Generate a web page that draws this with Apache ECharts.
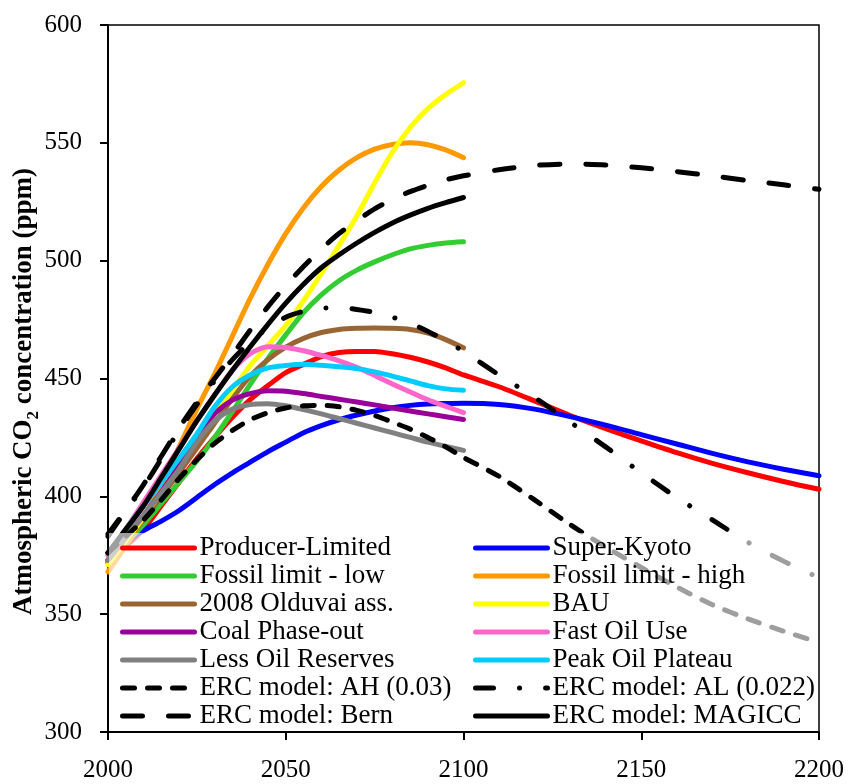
<!DOCTYPE html>
<html>
<head>
<meta charset="utf-8">
<script src="https://cdn.jsdelivr.net/npm/echarts@6/dist/echarts.min.js"></script>
<style>
  html, body { margin: 0; padding: 0; background: #ffffff; }
  #chart { width: 849px; height: 784px; }
</style>
</head>
<body>
<div id="chart"></div>
<script>
// Years sampled for the scenario runs (to 2100) and the long ERC runs (to 2200)
const yearsTo2100 = [2000, 2005, 2010, 2015, 2020, 2025, 2030, 2035, 2040, 2045, 2050,
                     2055, 2060, 2065, 2070, 2075, 2080, 2085, 2090, 2095, 2100];
const yearsTo2200 = yearsTo2100.concat([2110, 2120, 2130, 2140, 2150, 2160, 2170, 2180, 2190, 2200]);

// Atmospheric CO2 concentration (ppm)
const producerLimited = [373, 379, 386, 396, 406, 416, 425, 433.5, 441, 447, 452.5,
                         456, 459.3, 461, 461.5, 461.5, 460.5, 459, 457, 454.5, 451.5,
                         446.5, 440.5, 434.3, 428.7, 423.5, 418.5, 414, 410, 406.3, 403];
const superKyoto = [376, 381, 385.5, 389.5, 394, 399.5, 405, 410, 414.5, 419, 423,
                    427, 430, 432.5, 434.5, 436.2, 437.6, 438.6, 439.2, 439.4, 439.5,
                    439, 437, 433.8, 430.2, 426.2, 422.2, 418.2, 414.6, 411.5, 408.7];
const fossilLow = [372, 380, 388, 397, 406, 415, 425, 436, 447.5, 458.5, 468.5,
                   478, 485.5, 491.5, 496, 499.5, 502.5, 505, 506.5, 507.5, 508];
const fossilHigh = [368, 379, 391, 405, 421, 437, 452, 468, 484, 498.5, 511.5,
                    522.5, 531.5, 538.5, 543.7, 547.3, 549.3, 550, 549.2, 547, 543.7];
const olduvai = [372, 381, 390, 400, 410, 420.5, 431, 441.5, 451, 458, 463.3,
                 467, 469.5, 470.8, 471.3, 471.4, 471.3, 470.8, 469.3, 466.5, 463];
const bau = [371, 381, 391, 402, 413, 424, 435, 445, 455.5, 464, 472.5,
             483, 494.5, 506.5, 519, 533, 546, 556.5, 564.5, 570.5, 575.5];
const coalPhaseOut = [373, 382.5, 392, 402, 413, 425, 435, 440.8, 443.6, 444.8, 444.6,
                      443.6, 442.4, 441.2, 440, 438.8, 437.5, 436.2, 435, 433.8, 432.6];
const fastOilUse = [375, 386, 397.5, 409, 420.5, 432, 443, 453.5, 460.5, 463.5, 463.2,
                    461.8, 459.8, 457.5, 454.7, 451.3, 447.7, 444.3, 441, 438.2, 435.5];
const lessOilReserves = [373, 382.5, 392, 401.5, 411.5, 423, 432, 437, 439, 439.3, 438.4,
                         436.8, 435, 433, 431, 429, 427, 425, 423, 421.2, 419.5];
const peakOilPlateau = [376, 386, 396, 406, 416, 426.5, 438, 446.5, 451.5, 454.5, 455.5,
                        456, 455.6, 455, 454.2, 452.8, 451, 449, 447, 445.6, 445];
const ercAH = [376, 383, 390, 398.5, 407.5, 415.5, 422.5, 428, 432.5, 435.5, 437.5,
               438.4, 438.6, 438, 436.5, 434.3, 431.5, 428.5, 425, 421, 416.5,
               408.5, 398.5, 388, 378.5, 369.8, 361.5, 354, 348, 342.8, 338];
const ercAL = [384, 394, 404, 416, 428, 439, 449, 458, 465.5, 471.5, 476,
               478.5, 479.8, 480, 479.3, 478, 476, 473.5, 470, 466, 461.5,
               451.5, 442, 431.5, 421, 410, 399.5, 390, 380.5, 372.5, 365.5];
const ercBern = [383, 394, 405, 417, 429, 440, 450, 460, 470.5, 480.5, 489.5,
                 497.5, 505, 511.5, 517, 522, 526, 529.3, 532, 534.3, 536,
                 538.6, 540.4, 541, 540.6, 539.4, 537.8, 536, 534, 532.2, 530.3];
const ercMAGICC = [376, 386, 396, 408, 420, 432, 443, 453.5, 463.5, 473, 482,
                   490, 497, 502.5, 507.5, 512, 516, 519.3, 522.2, 524.6, 526.8];

// Axis ticks
const xTicks = [2000, 2050, 2100, 2150, 2200];
const yTicks = [300, 350, 400, 450, 500, 550, 600];

const FONT = '"Liberation Serif", "Times New Roman", serif';

function pairs(years, vals) {
  return vals.map((v, i) => [years[i], v]);
}

function lineSeries(name, years, vals, color, dash) {
  return {
    name: name,
    type: 'line',
    data: pairs(years, vals),
    smooth: 0.25,
    symbol: 'none',
    showSymbol: false,
    lineStyle: { color: color, width: 5, type: dash || 'solid', cap: 'round', join: 'round' },
    itemStyle: { color: color },
    emphasis: { disabled: true },
    z: 2
  };
}

const leftLegend = ['Producer-Limited', 'Fossil limit - low', '2008 Olduvai ass.', 'Coal Phase-out',
                    'Less Oil Reserves', 'ERC model: AH (0.03)', 'ERC model: Bern'];
const rightLegend = ['Super-Kyoto', 'Fossil limit - high', 'BAU', 'Fast Oil Use',
                     'Peak Oil Plateau', 'ERC model: AL (0.022)', 'ERC model: MAGICC'];

const legendBase = {
  orient: 'vertical',
  top: 534,
  padding: 0,
  itemWidth: 72,
  itemHeight: 10,
  itemGap: 0,
  selectedMode: false,
  itemStyle: { opacity: 0 },
  lineStyle: { width: 5, cap: 'round' },
  textStyle: { fontFamily: FONT, fontSize: 27, color: '#000', lineHeight: 28 }
};

const chart = echarts.init(document.getElementById('chart'), null, { renderer: 'canvas' });

chart.setOption({
  animation: false,
  backgroundColor: '#ffffff',
  grid: {
    left: 108, right: 30, top: 25, bottom: 52,
    outerBoundsMode: 'none',
    containLabel: false,
    show: true, borderColor: '#000', borderWidth: 1.5, backgroundColor: 'transparent'
  },
  xAxis: {
    type: 'value',
    min: xTicks[0], max: xTicks[xTicks.length - 1], interval: 50,
    axisLine: { show: true, onZero: false, lineStyle: { color: '#000', width: 2 } },
    axisTick: { show: true, inside: false, length: 8, lineStyle: { color: '#000', width: 2 } },
    axisLabel: { fontFamily: FONT, fontSize: 25, color: '#000', margin: 26, formatter: v => String(v) },
    splitLine: { show: false }
  },
  yAxis: {
    type: 'value',
    min: yTicks[0], max: yTicks[yTicks.length - 1], interval: 50,
    name: '{t|Atmospheric CO}{s|2}{t| concentration (ppm)}',
    nameLocation: 'middle',
    nameGap: 70,
    nameMoveOverlap: false,
    nameRotate: 90,
    nameTextStyle: {
      padding: [0, 26, 0, 0],
      rich: {
        t: { fontFamily: FONT, fontSize: 27, fontWeight: 'bold', color: '#000' },
        s: { fontFamily: FONT, fontSize: 17, fontWeight: 'bold', color: '#000', verticalAlign: 'bottom', padding: [0, 0, -4, 0] }
      }
    },
    axisLine: { show: true, onZero: false, lineStyle: { color: '#000', width: 2 } },
    axisTick: { show: true, inside: false, length: 8, lineStyle: { color: '#000', width: 2 } },
    axisLabel: { fontFamily: FONT, fontSize: 25, color: '#000', margin: 26, formatter: v => String(v) },
    splitLine: { show: false }
  },
  legend: [
    Object.assign({}, legendBase, { left: 120, data: leftLegend }),
    Object.assign({}, legendBase, { left: 473, data: rightLegend })
  ],
  // Translucent panel behind the legend entries
  graphic: [{
    type: 'rect',
    z: 3,
    silent: true,
    shape: { x: 109, y: 533, width: 709, height: 198 },
    style: { fill: 'rgba(255,255,255,0.62)' }
  }],
  series: [
    lineSeries('Producer-Limited', yearsTo2200, producerLimited, '#FF0000'),
    lineSeries('Super-Kyoto', yearsTo2200, superKyoto, '#0000FF'),
    lineSeries('Fossil limit - low', yearsTo2100, fossilLow, '#33CC33'),
    lineSeries('Fossil limit - high', yearsTo2100, fossilHigh, '#FF9900'),
    lineSeries('2008 Olduvai ass.', yearsTo2100, olduvai, '#996633'),
    lineSeries('BAU', yearsTo2100, bau, '#FFFF00'),
    lineSeries('Coal Phase-out', yearsTo2100, coalPhaseOut, '#990099'),
    lineSeries('Fast Oil Use', yearsTo2100, fastOilUse, '#FF66CC'),
    lineSeries('Less Oil Reserves', yearsTo2100, lessOilReserves, '#808080'),
    lineSeries('Peak Oil Plateau', yearsTo2100, peakOilPlateau, '#00CCFF'),
    lineSeries('ERC model: AH (0.03)', yearsTo2200, ercAH, '#000000', [12, 13]),
    lineSeries('ERC model: AL (0.022)', yearsTo2200, ercAL, '#000000', [18, 26, 0.1, 26]),
    lineSeries('ERC model: Bern', yearsTo2200, ercBern, '#000000', [20, 26]),
    lineSeries('ERC model: MAGICC', yearsTo2100, ercMAGICC, '#000000')
  ]
});
</script>
</body>
</html>
